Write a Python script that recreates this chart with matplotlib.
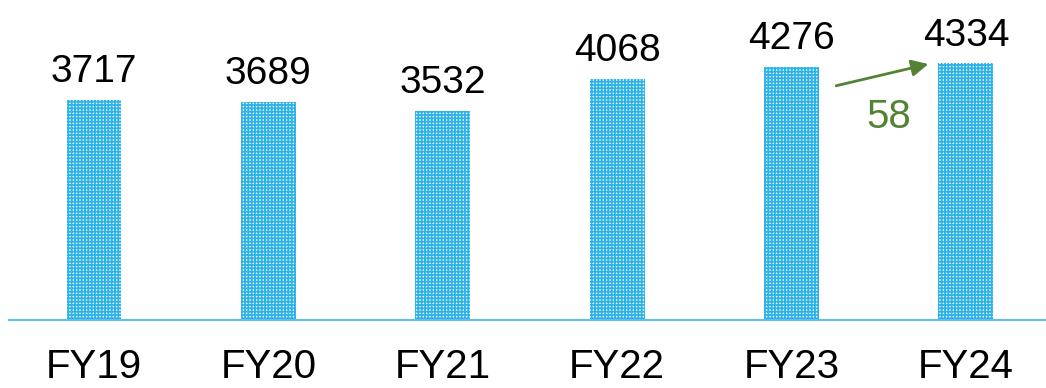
import numpy as np
import matplotlib.pyplot as plt

years = ['FY19', 'FY20', 'FY21', 'FY22', 'FY23', 'FY24']
values = [3717, 3689, 3532, 4068, 4276, 4334]
delta_label = '58'

blue = '#2DB3E8'
green = '#548235'

plt.rcParams['font.family'] = ['Liberation Sans', 'DejaVu Sans']
plt.rcParams['hatch.linewidth'] = 1.3

fig = plt.figure(figsize=(10.46, 3.88), dpi=100)
ax = fig.add_axes([0, 0.175, 1, 0.825])

x = np.arange(len(years))
ax.bar(x, values, width=0.315, color='white', edgecolor=blue, hatch='+++++', linewidth=0)

for xi, v in zip(x, values):
    ax.annotate(str(v), (xi, v), xytext=(0, 7), textcoords='offset points',
                ha='center', va='bottom', fontsize=28)

# change arrow between last two bars
ax.annotate('', xy=(x[5] - 0.2, values[5]), xytext=(x[4] + 0.24, values[4] - 330),
            arrowprops=dict(arrowstyle='-|>', color=green, lw=2, mutation_scale=25))
ax.text(x[4] + 0.56, values[4] - 850, delta_label, color=green, fontsize=29,
        ha='center', va='center')

ax.set_xlim(-0.539, 5.459)
ax.set_ylim(0, 5405)
ax.set_yticks([])
ax.set_xticks(x)
ax.set_xticklabels(years, fontsize=29)
ax.tick_params(axis='x', length=0, pad=20)
for s in ['top', 'right', 'left']:
    ax.spines[s].set_visible(False)
ax.spines['bottom'].set_color('#5BC0EB')
ax.spines['bottom'].set_linewidth(1.5)
ax.spines['bottom'].set_bounds(-0.49, 5.459)

plt.savefig('out.png', dpi=100)
